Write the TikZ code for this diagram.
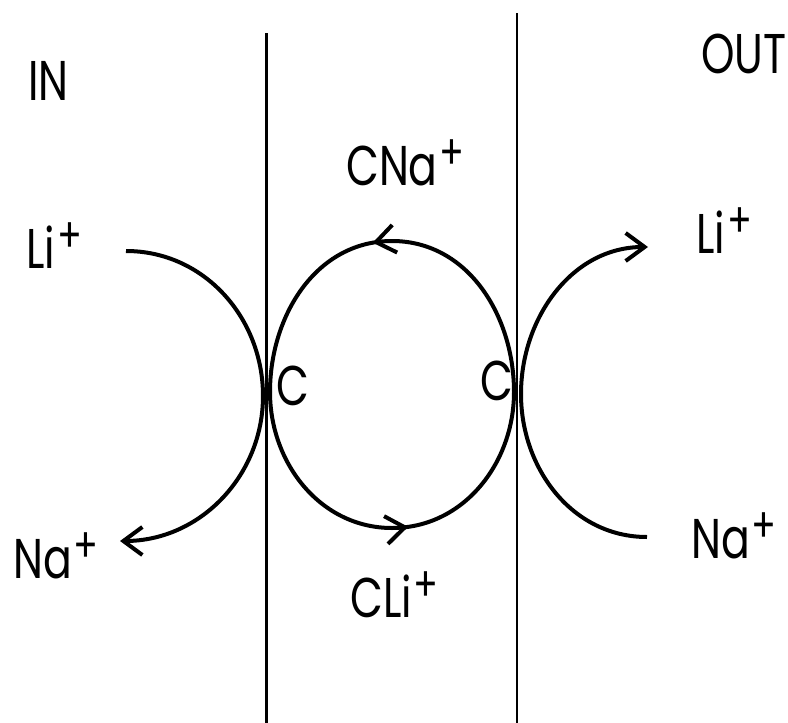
\documentclass[tikz,border=0pt]{standalone}
\usepackage{fontspec}
\setmainfont{Poppins}[FakeStretch=0.76]
\usetikzlibrary{arrows.meta,decorations.markings}
% raised plus sign for the ion charge
\newcommand{\chg}{\hspace{2pt}\raisebox{0.5ex}{\fontsize{48}{48}\selectfont +}}
\begin{document}
\begin{tikzpicture}[x=1pt,y=-1pt,
  lbl/.style={font=\fontsize{56}{60}\selectfont, inner sep=0pt, anchor=base west},
  wall/.style={line width=2.4pt},
  flux/.style={line width=4pt},
  fluxtip/.style={flux, -{Straight Barb[length=19pt,width=28pt]}},
  midtip/.style={flux, postaction={decorate}, decoration={markings,
      mark=at position #1 with {\arrow{Straight Barb[length=19pt,width=28pt]}}}}]
\useasboundingbox (0,0) rectangle (788,723);

% membrane walls
\coordinate (wLtop) at (266.5,33);
\coordinate (wLbot) at (266.5,723);
\coordinate (wRtop) at (517,13);
\coordinate (wRbot) at (517,723);
\draw[wall] (wLtop) -- (wLbot);
\draw[wall] (wRtop) -- (wRbot);

% labels
\node[lbl] (in)   at (28,100) {IN};
\node[lbl] (out)  at (701,73) {OUT};
\node[lbl] (cna)  at (346,185) {CNa\chg};
\node[lbl] (liL)  at (26,268) {Li\chg};
\node[lbl] (liR)  at (696,253) {Li\chg};
\node[lbl] (cL)   at (276,405) {C};
\node[lbl] (cR)   at (480,400) {C};
\node[lbl] (naL)  at (13,578) {Na\chg};
\node[lbl] (naR)  at (691,558) {Na\chg};
\node[lbl] (cli)  at (350,617) {CLi\chg};

% path points of the carrier cycle
\coordinate (liLs)  at (126,251);
\coordinate (tL)    at (263,396);
\coordinate (naLe)  at (120,541);
\coordinate (mL)    at (270,392);
\coordinate (mTop)  at (392,241);
\coordinate (mR)    at (514,392);
\coordinate (mBot)  at (392,528);
\coordinate (naRs)  at (647,537);
\coordinate (tR)    at (521,394);
\coordinate (liRe)  at (648,247);

% Li+ enters, Na+ leaves on the IN side
\draw[fluxtip] (liLs) to[out=0,in=90] (tL) to[out=-90,in=0] (naLe);
% carrier loaded with Na+ returns across the membrane
\draw[midtip=0.545] (mR) to[out=90,in=0] (mTop) to[out=180,in=90] (mL);
% carrier loaded with Li+ crosses the membrane
\draw[midtip=0.54] (mL) to[out=-90,in=180] (mBot) to[out=0,in=-90] (mR);
% Na+ enters, Li+ leaves on the OUT side
\draw[fluxtip] (naRs) to[out=180,in=-90] (tR) to[out=90,in=180] (liRe);
\end{tikzpicture}
\end{document}
